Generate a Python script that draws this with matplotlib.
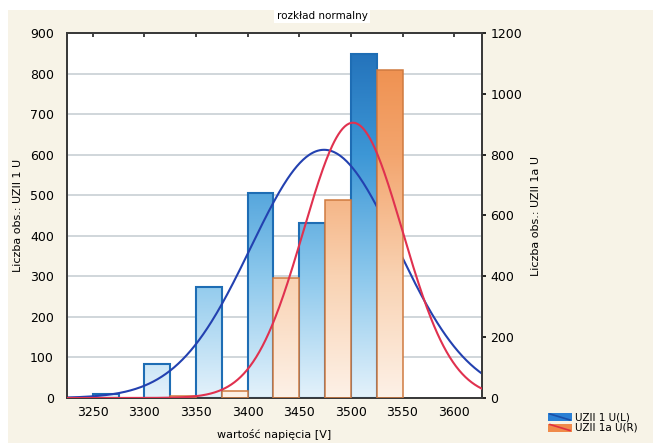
import numpy as np
import matplotlib
matplotlib.use("Agg")
import matplotlib.pyplot as plt
from matplotlib.colors import LinearSegmentedColormap
from matplotlib.patches import Rectangle
from matplotlib.lines import Line2D

# ---- data ----
bin_width = 25
blue_left = [3250, 3300, 3350, 3400, 3450, 3500]
blue_counts = [9, 83, 273, 506, 431, 848]            # left axis
orange_left = [3275, 3325, 3375, 3425, 3475, 3525]
orange_counts = [1, 5, 22, 393, 651, 1078]          # right axis

# fitted normal curves (parameters)
blue_mean, blue_sd, blue_peak = 3474, 71, 612
red_mean, red_sd, red_peak = 3502, 48, 905

x_ticks = [3250, 3300, 3350, 3400, 3450, 3500, 3550, 3600]
left_ticks = [0, 100, 200, 300, 400, 500, 600, 700, 800, 900]
right_ticks = [0, 200, 400, 600, 800, 1000, 1200]

title = "rozkład normalny"
xlabel = "wartość napięcia [V]"
ylabel_left = "Liczba obs.: UZII 1 U"
ylabel_right = "Liczba obs.: UZII 1a U"
legend_labels = ["UZII 1 U(L)", "UZII 1a U(R)"]

# ---- figure ----
W, H = 653, 443
fig = plt.figure(figsize=(W / 100, H / 100), dpi=100)
fig.patch.set_facecolor("#f7f3e7")
fig.add_artist(Rectangle((0, 1 - 10 / H), 1, 10 / H, transform=fig.transFigure,
                         facecolor="white", edgecolor="none", zorder=0))
fig.add_artist(Rectangle((0, 0), 8 / W, 1, transform=fig.transFigure,
                         facecolor="white", edgecolor="none", zorder=0))

x0, x1, y0, y1 = 67, 482, 33, 398
ax = fig.add_axes([x0 / W, 1 - y1 / H, (x1 - x0) / W, (y1 - y0) / H])
ax.set_facecolor("white")
ax2 = ax.twinx()
ax2.set_zorder(ax.get_zorder() + 1)
ax2.patch.set_visible(False)

xlim = (3225, 3627)

for t in left_ticks[1:-1]:
    ax.axhline(t, color="#cdd3d8", lw=1.3, zorder=0.5)

blue_cmap = LinearSegmentedColormap.from_list("b", ["#e4f2fb", "#8cc8ec", "#3d97d6", "#1f6cb6"])
orange_cmap = LinearSegmentedColormap.from_list("o", ["#fdf1e7", "#f9d2b2", "#f3a56e", "#ee8a46"])
grad = np.linspace(0, 1, 256).reshape(-1, 1)


def draw_bars(a, lefts, counts, cmap, ymax, edge, lw, base):
    for l, c in zip(lefts, counts):
        # opaque base so the bar hides anything drawn below it
        a.add_patch(Rectangle((l, 0), bin_width, c, facecolor=base,
                              edgecolor="none", zorder=1.9))
        rect = Rectangle((l, 0), bin_width, c, facecolor="none", edgecolor=edge,
                         lw=lw, zorder=3)
        a.add_patch(rect)
        im = a.imshow(grad, cmap=cmap, origin="lower", aspect="auto",
                      extent=(xlim[0], xlim[1], 0, ymax), zorder=2,
                      interpolation="bilinear")
        im.set_clip_path(rect)


draw_bars(ax, blue_left, blue_counts, blue_cmap, 900, "#1e6db4", 1.5, "#9fd0ef")
xs = np.linspace(xlim[0], xlim[1], 400)
ax.plot(xs, blue_peak * np.exp(-0.5 * ((xs - blue_mean) / blue_sd) ** 2),
        color="#2341b0", lw=1.5, zorder=4)

draw_bars(ax2, orange_left, orange_counts, orange_cmap, 1200, "#cf7a40", 1.1, "#f6bf94")
ax2.plot(xs, red_peak * np.exp(-0.5 * ((xs - red_mean) / red_sd) ** 2),
         color="#e0314f", lw=1.5, zorder=4)

ax.set_xlim(*xlim)
ax.set_ylim(0, 900)
ax2.set_ylim(0, 1200)
ax.set_xticks(x_ticks)
ax.set_yticks(left_ticks)
ax2.set_yticks(right_ticks)

for a in (ax, ax2):
    for s in a.spines.values():
        s.set_color("#3a3a3a")
        s.set_linewidth(1.3)

fs = 9
ax.tick_params(axis="x", which="both", bottom=False, top=True, direction="in",
               length=3, width=1.3, color="#333333", labelsize=fs, pad=6)
ax.tick_params(axis="y", left=False, labelsize=fs, pad=6)
ax2.tick_params(axis="y", right=True, direction="out", length=3, width=1.2,
                labelsize=fs, pad=3)

ax.set_xlabel(xlabel, fontsize=8, labelpad=7)
ax.set_ylabel(ylabel_left, fontsize=8, labelpad=5)
ax2.set_ylabel(ylabel_right, fontsize=8, labelpad=6)

fig.text(322 / W, 1 - 16 / H, title, ha="center", va="center", fontsize=7.5,
         bbox=dict(facecolor="white", edgecolor="none", pad=1.5))


def px(x, y):
    return x / W, 1 - y / H


for i, (lab, fc, lc) in enumerate(zip(legend_labels,
                                      ["#2a7fd4", "#f08a4a"],
                                      ["#1a4fa8", "#e03040"])):
    yc = 417 + i * 10.5
    bx, by = px(548, yc + 4)
    fig.add_artist(Rectangle((bx, by), 24 / W, 8 / H, transform=fig.transFigure,
                             facecolor=fc, edgecolor="none"))
    (lx0, ly0), (lx1, ly1) = px(550, yc - 3), px(570, yc + 3)
    fig.add_artist(Line2D([lx0, lx1], [ly0, ly1], transform=fig.transFigure,
                          color=lc, lw=1.2))
    tx, ty = px(575, yc)
    fig.text(tx, ty, lab, ha="left", va="center", fontsize=7.5)

fig.savefig("out.png", dpi=100, facecolor=fig.get_facecolor())
